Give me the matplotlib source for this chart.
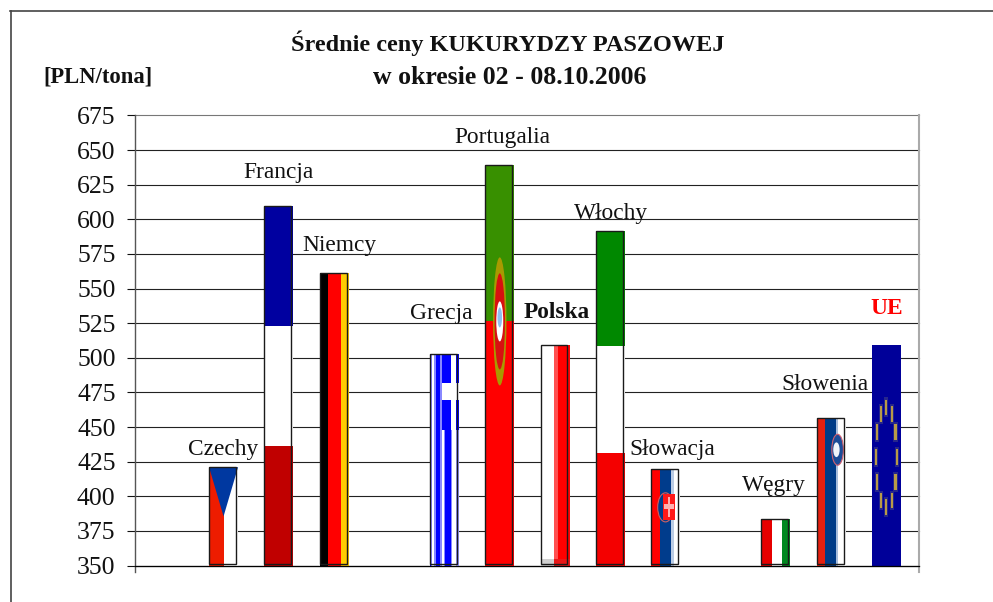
import numpy as np
import matplotlib
matplotlib.use("Agg")
import matplotlib.pyplot as plt
from matplotlib.lines import Line2D
from matplotlib.patches import Ellipse, Polygon, Rectangle

plt.rcParams['font.family'] = ['Liberation Serif', 'DejaVu Sans']

countries = ['Czechy', 'Francja', 'Niemcy', 'Grecja', 'Portugalia', 'Polska',
             'Włochy', 'Słowacja', 'Węgry', 'Słowenia', 'UE']
positions = [0, 1, 2, 4, 5, 6, 7, 8, 10, 11, 12]
prices = [421, 609.5, 561, 503, 639, 509, 591.5, 420, 383.5, 456.5, 509]
yticks = list(range(350, 676, 25))
title_lines = ['Średnie ceny KUKURYDZY PASZOWEJ', 'w okresie 02 - 08.10.2006']
unit_label = '[PLN/tona]'

W, H = 993, 602
L, R, T, B = 135, 918.5, 115.5, 565.5
fig = plt.figure(figsize=(W / 100, H / 100), dpi=100, facecolor='white')
ax = fig.add_axes([L / W, 1 - B / H, (R - L) / W, (B - T) / H])
ax.set_xlim(-1.603, 12.58)
ax.set_ylim(350, 675)
BASE = 350
BW = 0.525

for s in ax.spines.values():
    s.set_visible(False)
ax.set_yticks(yticks)
ax.set_xticks([])
ax.tick_params(axis='y', length=6, width=0.8, color='#111111', pad=8, labelsize=18.5, labelcolor='#111111')
for v in yticks:
    c = '#222222' if v < 675 else '#777777'
    ax.plot(ax.get_xlim(), [v, v], color=c, lw=0.8, zorder=1, clip_on=False)
ax.plot(ax.get_xlim(), [350, 350], color='black', lw=0.9, zorder=6, clip_on=False)
xl = ax.get_xlim()
ax.plot([xl[0], xl[0]], [345.5, 675], color='#555555', lw=1.0, zorder=2, clip_on=False)
ax.plot([xl[1], xl[1]], [345.5, 675], color='#AAAAAA', lw=1.5, zorder=2, clip_on=False)
ax.set_xlim(xl)
ax.set_ylim(350, 675)


class Flag:
    """Maps flag coordinates (u across, v down from the bar top) onto one bar."""
    def __init__(self, x, top):
        self.x0 = x - BW / 2
        self.top = top
        self.h = top - BASE

    def X(self, u):
        return self.x0 + u * BW

    def Y(self, v):
        return self.top - v * self.h

    def rect(self, u0, u1, v0, v1, color, z=3):
        ax.bar(self.X(u0), self.Y(v0) - self.Y(v1), width=(u1 - u0) * BW,
               bottom=self.Y(v1), align='edge', color=color, lw=0, zorder=z)

    def ell(self, u, v, du, dv, fc, ec='none', lw=0, z=4):
        ax.add_patch(Ellipse((self.X(u), self.Y(v)), du * BW, dv * self.h,
                             facecolor=fc, edgecolor=ec, lw=lw, zorder=z))

    def outline(self):
        w = BW * 0.93
        ax.add_patch(Rectangle((self.x0, BASE + 1.4), w, self.top - BASE - 1.4,
                               fill=False, edgecolor='#1a1a1a', lw=1.0, zorder=5))


def cz(f):
    f.rect(0, .5, 0, 1, '#EE1C00')
    f.rect(.5, 1, 0, 1, 'white')
    ax.add_patch(Polygon([(f.X(0), f.Y(0)), (f.X(1), f.Y(0)), (f.X(.5), f.Y(.5))],
                         closed=True, facecolor='#0038A0', lw=0, zorder=4))


def fr(f):
    f.rect(0, 1, 0, .333, '#0000A0')
    f.rect(0, 1, .333, .667, 'white')
    f.rect(0, 1, .667, 1, '#C00000')


def de(f):
    f.rect(0, .3, 0, 1, 'black')
    f.rect(.3, .73, 0, 1, '#FF0000')
    f.rect(.73, 1, 0, 1, '#FFCC00')


def gr(f):
    f.rect(0, 1, 0, 1, 'white')
    f.rect(0, .07, 0, 1, '#8888FF')
    f.rect(.15, .40, 0, 1, '#8888FF')
    f.rect(.47, .75, .36, 1, '#8888FF')
    f.rect(0, .03, 0, 1, '#0000FF')
    f.rect(.19, .36, 0, 1, '#0000FF')
    f.rect(.51, .71, .36, 1, '#0000FF')
    f.rect(.88, 1, .36, 1, '#9999FF')
    f.rect(.43, .71, 0, .36, '#0000FF')
    f.rect(.88, 1, 0, .36, '#0000FF')
    f.rect(.43, 1, .14, .22, 'white', z=4)


def pt(f):
    f.rect(0, 1, 0, .39, '#389000')
    f.rect(0, 1, .39, 1, '#FF0000')
    f.ell(.5, .39, .46, .32, '#A89A00')
    f.ell(.5, .39, .36, .24, '#D81010')
    f.ell(.5, .39, .24, .10, 'white')
    f.ell(.5, .38, .16, .05, '#90C0F0')


def pl(f):
    f.rect(0, .48, 0, 1, 'white')
    f.rect(.48, .6, 0, 1, '#FF5050')
    f.rect(.6, 1, 0, 1, '#FF0000')
    f.rect(0, .48, .97, 1, '#D0D0D0')
    f.rect(.48, 1, .97, 1, '#E81818')


def it(f):
    f.rect(0, 1, 0, .343, '#008800')
    f.rect(0, 1, .343, .664, 'white')
    f.rect(0, 1, .664, 1, '#F40000')


def sk(f):
    f.rect(0, .3, 0, 1, '#FF0000')
    f.rect(.3, .68, 0, 1, '#003C8C')
    f.rect(.68, .78, 0, 1, '#BBCCE4')
    f.rect(.78, 1, 0, 1, 'white')
    f.ell(.5, .40, .54, .30, '#003C8C', ec='#D06060', lw=0.8)
    f.rect(.41, .84, .26, .53, '#FF1818', z=5)
    f.rect(.6, .67, .29, .50, '#FFB0B0', z=5)
    f.rect(.46, .8, .37, .42, '#FFB0B0', z=5)


def hu(f):
    f.rect(0, .35, 0, 1, '#E60000')
    f.rect(.35, .7, 0, 1, 'white')
    f.rect(.7, 1, 0, 1, '#008820')


def si(f):
    f.rect(0, .3, 0, 1, '#E62010')
    f.rect(.3, .65, 0, 1, '#003C88')
    f.rect(.65, .72, 0, 1, '#A8BEDC')
    f.rect(.72, 1, 0, 1, 'white')
    f.ell(.72, .215, .40, .21, '#1C4C98', ec='#D06070', lw=0.8)
    f.ell(.68, .215, .22, .10, '#F0F4FA')


def eu(f):
    f.rect(0, 1, 0, 1, '#000099')
    a = np.deg2rad(np.arange(0, 360, 30))
    for aa in a:
        u, v = .5 + .36 * np.cos(aa), .508 + .227 * np.sin(aa)
        f.rect(u - .07, u + .07, v - .045, v + .045, '#26268C', z=4)
        f.rect(u - .035, u + .035, v - .035, v + .035, '#B89A48', z=4)


painters = [cz, fr, de, gr, pt, pl, it, sk, hu, si, eu]
for name, x, val, paint in zip(countries, positions, prices, painters):
    flag = Flag(x, val)
    paint(flag)
    if name != 'UE':
        flag.outline()

label_px = {
    'Czechy': (223, 450), 'Francja': (278, 173), 'Niemcy': (339, 245),
    'Grecja': (441, 313), 'Portugalia': (502, 137), 'Polska': (557, 313),
    'Włochy': (611, 214), 'Słowacja': (672, 449), 'Węgry': (774, 485),
    'Słowenia': (825, 384), 'UE': (887, 308),
}
for name, (px, py) in label_px.items():
    kw = {}
    if name == 'Polska':
        kw = dict(fontweight='bold')
    if name == 'UE':
        kw = dict(fontweight='bold', color='#FF0000')
    kw.setdefault('color', '#111111')
    fig.text(px / W, 1 - py / H, name, ha='center', va='center', fontsize=16.8, zorder=10, **kw)

fig.text(508 / W, 1 - 43 / H, title_lines[0], ha='center', va='center', fontsize=17.5, fontweight='bold', color='#111111')
fig.text(510 / W, 1 - 78 / H, title_lines[1], ha='center', va='center', fontsize=18.5, fontweight='bold', color='#111111')
fig.text(98 / W, 1 - 77 / H, unit_label, ha='center', va='center', fontsize=16.3, fontweight='bold', color='#111111')

fig.add_artist(Line2D([10.5 / W, 10.5 / W], [0, 1 - 11 / H], color='#444444', lw=1.2))
fig.add_artist(Line2D([10 / W, 1], [1 - 11 / H, 1 - 11 / H], color='#444444', lw=1.2))

fig.savefig('out.png', dpi=100)
